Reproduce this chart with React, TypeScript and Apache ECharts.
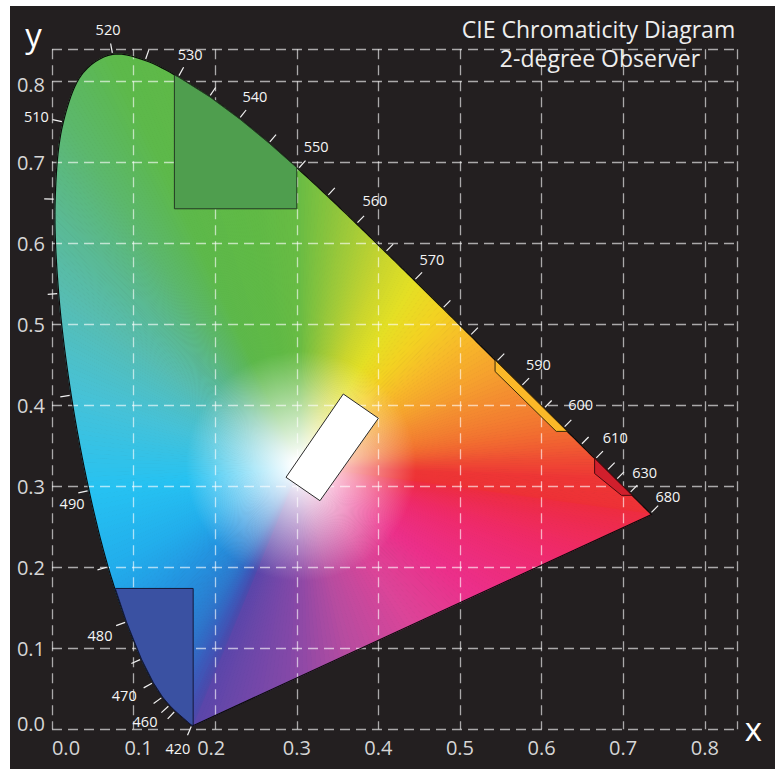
import React, { useEffect, useRef } from 'react';
import * as echarts from 'echarts';

// ---------- data ----------
const wavelengths = [380, 390, 400, 410, 420, 425, 430, 435, 440, 445, 450, 455, 460, 465, 470, 475, 480, 485, 490, 495, 500, 505, 510, 515, 520, 525, 530, 535, 540, 545, 550, 555, 560, 565, 570, 575, 580, 585, 590, 595, 600, 605, 610, 615, 620, 625, 630, 635, 640, 645, 650, 660, 670, 680, 700];
const locusX = [0.1741, 0.1738, 0.1733, 0.1726, 0.1714, 0.1703, 0.1689, 0.1669, 0.1644, 0.1611, 0.1566, 0.1510, 0.1440, 0.1355, 0.1241, 0.1096, 0.0913, 0.0687, 0.0454, 0.0235, 0.0082, 0.0039, 0.0139, 0.0389, 0.0743, 0.1142, 0.1547, 0.1929, 0.2296, 0.2658, 0.3016, 0.3374, 0.3731, 0.4087, 0.4441, 0.4788, 0.5125, 0.5448, 0.5752, 0.6029, 0.6270, 0.6482, 0.6658, 0.6801, 0.6915, 0.7006, 0.7079, 0.7140, 0.7190, 0.7230, 0.7260, 0.7300, 0.7320, 0.7334, 0.7347];
const locusY = [0.0050, 0.0049, 0.0048, 0.0048, 0.0051, 0.0058, 0.0069, 0.0086, 0.0109, 0.0138, 0.0177, 0.0227, 0.0297, 0.0399, 0.0578, 0.0868, 0.1327, 0.2007, 0.2950, 0.4127, 0.5384, 0.6548, 0.7502, 0.8120, 0.8338, 0.8262, 0.8059, 0.7816, 0.7543, 0.7243, 0.6923, 0.6589, 0.6245, 0.5896, 0.5547, 0.5202, 0.4866, 0.4544, 0.4242, 0.3965, 0.3725, 0.3514, 0.3340, 0.3197, 0.3083, 0.2993, 0.2920, 0.2859, 0.2809, 0.2770, 0.2740, 0.2700, 0.2680, 0.2666, 0.2653];

const tickWavelengths = [420, 455, 460, 465, 470, 475, 480, 485, 490, 495, 500, 505, 510, 520, 525, 530, 535, 540, 545, 550, 555, 560, 565, 570, 575, 580, 585, 590, 595, 600, 605, 610, 615, 620, 630, 680];
const labeledWavelengths = [420, 460, 470, 480, 490, 510, 520, 530, 540, 550, 560, 570, 590, 600, 610, 630, 680];

const xTickValues = [0, 0.1, 0.2, 0.3, 0.4, 0.5, 0.6, 0.7, 0.8];
const yTickValues = [0, 0.1, 0.2, 0.3, 0.4, 0.5, 0.6, 0.7, 0.8];

// signal-colour regions
const greenRegionX = [0.15, 0.30];
const greenRegionFloor = 0.643;
const blueRegionRight = 0.173;
const blueRegionTop = 0.174;
const yellowRegionX = [0.543, 0.618];
const yellowRegionY = [0.442, 0.368];
const redRegionX = [0.665, 0.698];
const redRegionY = [0.316, 0.289];
const whiteRegionX = [0.357, 0.400, 0.3284, 0.2868];
const whiteRegionY = [0.4142, 0.3842, 0.2824, 0.3113];

const titleLines = ['CIE Chromaticity Diagram', '2-degree Observer'];

// ---------- styles ----------
const FONT = "'Open Sans', 'Noto Sans', 'DejaVu Sans', sans-serif";
const fanCenter = [0.305, 0.325];
const fanRadiusPx = 115;
const edgePalette: [number, string][] = [
  [380, '#5a46aa'], [420, '#5048aa'], [440, '#464eb0'], [455, '#3a5cbc'], [465, '#2f70c8'],
  [475, '#2788d8'], [480, '#2396e2'], [485, '#22aeec'], [490, '#26c2f2'], [495, '#46c2d8'],
  [500, '#57bdb2'], [505, '#5bb98e'], [510, '#5cb86e'], [515, '#5cb85a'], [520, '#5db94a'],
  [540, '#60ba45'], [550, '#68bc44'], [555, '#84c33e'], [560, '#a4cb38'], [565, '#c8d52e'],
  [570, '#e4e024'], [575, '#f3d222'], [580, '#f7ba29'], [585, '#f6a52d'], [590, '#f49030'],
  [600, '#f27030'], [610, '#ef4b33'], [620, '#ee3535'], [700, '#ee2c38'],
];
const purplePalette: [number, string][] = [
  [0, '#ee2c40'], [0.2, '#ef2a6c'], [0.38, '#ec2f8a'], [0.52, '#dc4498'],
  [0.66, '#b84ca0'], [0.8, '#8248a8'], [1, '#5a46aa'],
];
const labelOffsets: Record<number, [number, number]> = {
  420: [-14, 23], 460: [-24.5, 16.7], 470: [-29, 12.6], 480: [-26.5, 14], 490: [-17, 13.5],
  510: [-27, -5], 520: [-4.6, -25], 530: [12, -22], 540: [15.6, -21.7], 550: [18, -22],
  560: [18.5, -23], 570: [17.6, -21], 590: [17, -21], 600: [17, -23], 610: [20, -21],
  630: [15, -20], 680: [17.5, -16.5],
};

function hex(c: string): number[] {
  const v = parseInt(c.slice(1), 16);
  return [(v >> 16) & 255, (v >> 8) & 255, v & 255];
}
function mix(a: number[], b: number[], t: number) {
  return a.map((x, i) => x + (b[i] - x) * t);
}
function rgb(c: number[]) {
  return `rgb(${Math.round(c[0])},${Math.round(c[1])},${Math.round(c[2])})`;
}
function paletteAt(pal: [number, string][], v: number) {
  if (v <= pal[0][0]) return hex(pal[0][1]);
  for (let k = 0; k < pal.length - 1; k++) {
    if (v <= pal[k + 1][0]) {
      const t = (v - pal[k][0]) / (pal[k + 1][0] - pal[k][0]);
      return mix(hex(pal[k][1]), hex(pal[k + 1][1]), t);
    }
  }
  return hex(pal[pal.length - 1][1]);
}

// centripetal Catmull-Rom between p1 and p2
function crPoint(p0: number[], p1: number[], p2: number[], p3: number[], t: number) {
  const tj = (a: number[], b: number[]) => Math.max(1e-3, Math.pow(Math.hypot(b[0] - a[0], b[1] - a[1]), 0.5));
  const t0 = 0, t1 = t0 + tj(p0, p1), t2 = t1 + tj(p1, p2), t3 = t2 + tj(p2, p3);
  const tt = t1 + (t2 - t1) * t;
  const L = (a: number[], b: number[], ta: number, tb: number) => {
    const w1 = (tb - tt) / (tb - ta), w2 = (tt - ta) / (tb - ta);
    return [a[0] * w1 + b[0] * w2, a[1] * w1 + b[1] * w2];
  };
  const A1 = L(p0, p1, t0, t1), A2 = L(p1, p2, t1, t2), A3 = L(p2, p3, t2, t3);
  const B1 = L(A1, A2, t0, t2), B2 = L(A2, A3, t1, t3);
  return L(B1, B2, t1, t2);
}
// pixel points along the smooth locus between index i and i+1
function splineSegment(P: number[][], i: number) {
  const n = P.length;
  const p1 = P[i], p2 = P[i + 1];
  const p0 = i > 0 ? P[i - 1] : [2 * p1[0] - p2[0], 2 * p1[1] - p2[1]];
  const p3 = i + 2 < n ? P[i + 2] : [2 * p2[0] - p1[0], 2 * p2[1] - p1[1]];
  const len = Math.hypot(p2[0] - p1[0], p2[1] - p1[1]);
  const k = Math.max(1, Math.ceil(len / 5));
  const out: number[][] = [];
  for (let j = 0; j <= k; j++) out.push(j === 0 ? p1 : j === k ? p2 : crPoint(p0, p1, p2, p3, j / k));
  return out;
}

// ---------- geometry helpers on the locus ----------
function idx(w: number) { return wavelengths.indexOf(w); }
function yOnLocusAtX(x: number, w0: number, w1: number) {
  for (let i = idx(w0); i < idx(w1); i++) {
    const xa = locusX[i], xb = locusX[i + 1];
    if ((x - xa) * (x - xb) <= 0 && xa !== xb) {
      const t = (x - xa) / (xb - xa);
      return locusY[i] + (locusY[i + 1] - locusY[i]) * t;
    }
  }
  return locusY[idx(w0)];
}
function xOnLocusAtY(y: number, w0: number, w1: number) {
  for (let i = idx(w0); i < idx(w1); i++) {
    const ya = locusY[i], yb = locusY[i + 1];
    if ((y - ya) * (y - yb) <= 0 && ya !== yb) {
      const t = (y - ya) / (yb - ya);
      return locusX[i] + (locusX[i + 1] - locusX[i]) * t;
    }
  }
  return locusX[idx(w0)];
}
function locusPts(w0: number, w1: number, keep: (x: number, y: number) => boolean) {
  const out: number[][] = [];
  for (let i = idx(w0); i <= idx(w1); i++) if (keep(locusX[i], locusY[i])) out.push([locusX[i], locusY[i]]);
  return out;
}

function buildRegions() {
  const [gx0, gx1] = greenRegionX;
  const green = [
    [gx0, greenRegionFloor], [gx0, yOnLocusAtX(gx0, 520, 560)],
    ...locusPts(520, 560, (x) => x > gx0 && x < gx1),
    [gx1, yOnLocusAtX(gx1, 520, 560)], [gx1, greenRegionFloor],
  ];
  const blue = [
    [blueRegionRight, blueRegionTop], [blueRegionRight, yOnLocusAtX(blueRegionRight, 380, 440)],
    ...locusPts(410, 480, (x, y) => x < blueRegionRight && y < blueRegionTop),
    [xOnLocusAtY(blueRegionTop, 480, 490), blueRegionTop],
  ];
  const yellow = [
    [yellowRegionX[0], yOnLocusAtX(yellowRegionX[0], 575, 595)],
    [yellowRegionX[0], yellowRegionY[0]], [yellowRegionX[1], yellowRegionY[1]],
    [xOnLocusAtY(yellowRegionY[1], 595, 615), yellowRegionY[1]],
    ...locusPts(575, 615, (x, y) => x > yellowRegionX[0] && y > yellowRegionY[1]).reverse(),
  ];
  const red = [
    [redRegionX[0], yOnLocusAtX(redRegionX[0], 600, 620)],
    [redRegionX[0], redRegionY[0]], [redRegionX[1], redRegionY[1]],
    [xOnLocusAtY(redRegionY[1], 625, 645), redRegionY[1]],
    ...locusPts(600, 645, (x, y) => x > redRegionX[0] && y > redRegionY[1]).reverse(),
  ];
  const white = whiteRegionX.map((x, i) => [x, whiteRegionY[i]]);
  return [
    { pts: green, fill: '#4f9e4e', stroke: '#243a24' },
    { pts: blue, fill: '#3a51a2', stroke: '#15183a' },
    { pts: yellow, fill: '#fbb828', stroke: '#3a2a08' },
    { pts: red, fill: '#d01f2c', stroke: '#4a0a0e' },
    { pts: white, fill: '#ffffff', stroke: '#2a2a2a' },
  ];
}

export default function App() {
  const ref = useRef<HTMLDivElement>(null);
  useEffect(() => {
    const el = ref.current!;
    const chart = echarts.init(el, null, { renderer: 'svg' });
    const regions = buildRegions();
    const n = wavelengths.length;

    const makeSlice = (W: number[], p0: number[], p1: number[], color: number[]) => {
      const m = [(p0[0] + p1[0]) / 2, (p0[1] + p1[1]) / 2];
      let dx = m[0] - W[0], dy = m[1] - W[1];
      const d = Math.hypot(dx, dy) || 1;
      const r = Math.min(d, fanRadiusPx);
      dx = (dx / d) * r; dy = (dy / d) * r;
      const c = rgb(color);
      const grad = new echarts.graphic.LinearGradient(W[0], W[1], W[0] + dx, W[1] + dy, [
        { offset: 0, color: '#ffffff' },
        { offset: 0.06, color: '#ffffff' },
        { offset: 1, color: c },
      ], true);
      return {
        type: 'polygon',
        shape: { points: [W, p0, p1] },
        style: { fill: grad, stroke: grad, lineWidth: 1, lineJoin: 'round' },
      };
    };

    const axisLabelColor = '#d6d6d6';
    const splitLine = { show: true, lineStyle: { color: 'rgba(255,255,255,0.62)', width: 1.3, type: [10, 6] } };
    const near = (v: number, t: number) => Math.abs(v - t) < 1e-6;
    const locusData = wavelengths.map((w, i) => [locusX[i], locusY[i]]);

    const option: any = {
      animation: false,
      backgroundColor: 'transparent',
      grid: { left: 42, top: 43.3, width: 685.4, height: 680, containLabel: false },
      xAxis: {
        type: 'value', min: 0, max: 0.84, interval: 0.1, z: 3,
        axisLine: { show: false }, axisTick: { show: false }, splitLine,
        axisLabel: {
          margin: 8, color: axisLabelColor, fontSize: 20, fontFamily: FONT,
          formatter: (v: number) => {
            if (!xTickValues.some((t) => near(v, t))) return '';
            const s = v.toFixed(1);
            if (near(v, 0)) return `{s0|${s}}`;
            if (near(v, 0.1)) return `{s1|${s}}`;
            if (near(v, 0.2)) return `{s2|${s}}`;
            return s;
          },
          rich: {
            s0: { padding: [0, 0, 0, 28], fontSize: 20, color: axisLabelColor, fontFamily: FONT },
            s1: { padding: [0, 0, 0, 10], fontSize: 20, color: axisLabelColor, fontFamily: FONT },
            s2: { padding: [0, 8, 0, 0], fontSize: 20, color: axisLabelColor, fontFamily: FONT },
          },
        },
      },
      yAxis: {
        type: 'value', min: 0, max: 0.84, interval: 0.1, z: 3,
        axisLine: { show: false }, axisTick: { show: false }, splitLine,
        axisLabel: {
          margin: 7, color: axisLabelColor, fontSize: 20, fontFamily: FONT,
          formatter: (v: number) => {
            if (!yTickValues.some((t) => near(v, t))) return '';
            const s = v.toFixed(1);
            if (near(v, 0)) return `{s0|${s}}`;
            if (near(v, 0.8)) return `{s8|${s}}`;
            return s;
          },
          rich: {
            s0: { padding: [0, 0, 12, 0], fontSize: 20, color: axisLabelColor, fontFamily: FONT },
            s8: { padding: [6, 0, 0, 0], fontSize: 20, color: axisLabelColor, fontFamily: FONT },
          },
        },
      },
      graphic: [
        { type: 'text', x: 588.5, y: 22.7, style: { text: titleLines[0], fill: '#eeeeee', fontSize: 23, fontFamily: FONT, align: 'center', verticalAlign: 'middle' } },
        { type: 'text', x: 590, y: 52.3, style: { text: titleLines[1], fill: '#eeeeee', fontSize: 23, fontFamily: FONT, align: 'center', verticalAlign: 'middle' } },
        { type: 'text', x: 23.5, y: 28, style: { text: 'y', fill: '#ffffff', fontSize: 33, fontFamily: FONT, align: 'center', verticalAlign: 'middle' } },
        { type: 'text', x: 743.5, y: 722, style: { text: 'x', fill: '#ffffff', fontSize: 33, fontFamily: FONT, align: 'center', verticalAlign: 'middle' } },
      ],
      series: [
        {
          // colour fill of the horseshoe: fan of slices from the white point
          type: 'custom', coordinateSystem: 'cartesian2d', z: 1, silent: true,
          data: locusData,
          renderItem: (params: any, api: any) => {
            const i = params.dataIndex;
            const W = api.coord(fanCenter);
            const children: any[] = [];
            if (i < n - 1) {
              const P = locusData.map((p) => api.coord(p));
              const seg = splineSegment(P, i);
              const ca = paletteAt(edgePalette, wavelengths[i]);
              const cb = paletteAt(edgePalette, wavelengths[i + 1]);
              const k = seg.length - 1;
              for (let j = 0; j < k; j++) children.push(makeSlice(W, seg[j], seg[j + 1], mix(ca, cb, (j + 0.5) / k)));
            } else {
              const a = api.coord(locusData[n - 1]);
              const b = api.coord(locusData[0]);
              const k = Math.max(1, Math.ceil(Math.hypot(b[0] - a[0], b[1] - a[1]) / 5));
              for (let j = 0; j < k; j++) {
                const p0 = [a[0] + (b[0] - a[0]) * j / k, a[1] + (b[1] - a[1]) * j / k];
                const p1 = [a[0] + (b[0] - a[0]) * (j + 1) / k, a[1] + (b[1] - a[1]) * (j + 1) / k];
                children.push(makeSlice(W, p0, p1, paletteAt(purplePalette, (j + 0.5) / k)));
              }
            }
            return { type: 'group', children };
          },
        },
        {
          // black outline of the spectral locus and line of purples
          type: 'custom', coordinateSystem: 'cartesian2d', z: 4, silent: true,
          data: [locusData[0]],
          renderItem: (params: any, api: any) => {
            const P = locusData.map((p) => api.coord(p));
            const pts: number[][] = [];
            for (let i = 0; i < n - 1; i++) {
              const seg = splineSegment(P, i);
              for (let j = i === 0 ? 0 : 1; j < seg.length; j++) pts.push(seg[j]);
            }
            pts.push(P[0]);
            return { type: 'polyline', shape: { points: pts }, style: { stroke: '#0c0c0c', lineWidth: 1.2, fill: null } };
          },
        },
        {
          type: 'custom', coordinateSystem: 'cartesian2d', z: 5, silent: true,
          data: regions.map((r) => r.pts[0]),
          renderItem: (params: any, api: any) => {
            const r = regions[params.dataIndex];
            return {
              type: 'polygon',
              shape: { points: r.pts.map((p) => api.coord(p)) },
              style: { fill: r.fill, stroke: r.stroke, lineWidth: 1 },
            };
          },
        },
        {
          type: 'custom', coordinateSystem: 'cartesian2d', z: 6, silent: true,
          data: tickWavelengths.map((w) => [locusX[idx(w)], locusY[idx(w)]]),
          renderItem: (params: any, api: any) => {
            const w = tickWavelengths[params.dataIndex];
            const i = idx(w);
            const p = api.coord([locusX[i], locusY[i]]);
            const ip = Math.max(0, i - 1), inx = Math.min(n - 1, i + 1);
            const pp = api.coord([locusX[ip], locusY[ip]]);
            const pn = api.coord([locusX[inx], locusY[inx]]);
            let tx = pn[0] - pp[0], ty = pn[1] - pp[1];
            const L = Math.hypot(tx, ty) || 1;
            tx /= L; ty /= L;
            let nx = -ty, ny = tx;
            const W = api.coord(fanCenter);
            if ((p[0] - W[0]) * nx + (p[1] - W[1]) * ny < 0) { nx = -nx; ny = -ny; }
            const children: any[] = [
              {
                type: 'line',
                shape: { x1: p[0] + nx * 1.5, y1: p[1] + ny * 1.5, x2: p[0] + nx * 11, y2: p[1] + ny * 11 },
                style: { stroke: '#f2f2f2', lineWidth: 1.2 },
              },
            ];
            if (labeledWavelengths.includes(w)) {
              const off = labelOffsets[w] || [nx * 22, ny * 22];
              children.push({
                type: 'text', x: p[0] + off[0], y: p[1] + off[1],
                style: { text: String(w), fill: '#f5f5f5', fontSize: 14.5, fontFamily: FONT, align: 'center', verticalAlign: 'middle' },
              });
            }
            return { type: 'group', children };
          },
        },
      ],
    };
    chart.setOption(option);
    return () => chart.dispose();
  }, []);

  return (
    <div style={{ position: 'fixed', left: 0, top: 0, width: 782, height: 769, background: '#ffffff' }}>
      <div style={{ position: 'absolute', left: 10, top: 6, width: 765, height: 763, background: '#231f20' }}>
        <div ref={ref} style={{ width: 765, height: 763 }} />
      </div>
    </div>
  );
}
